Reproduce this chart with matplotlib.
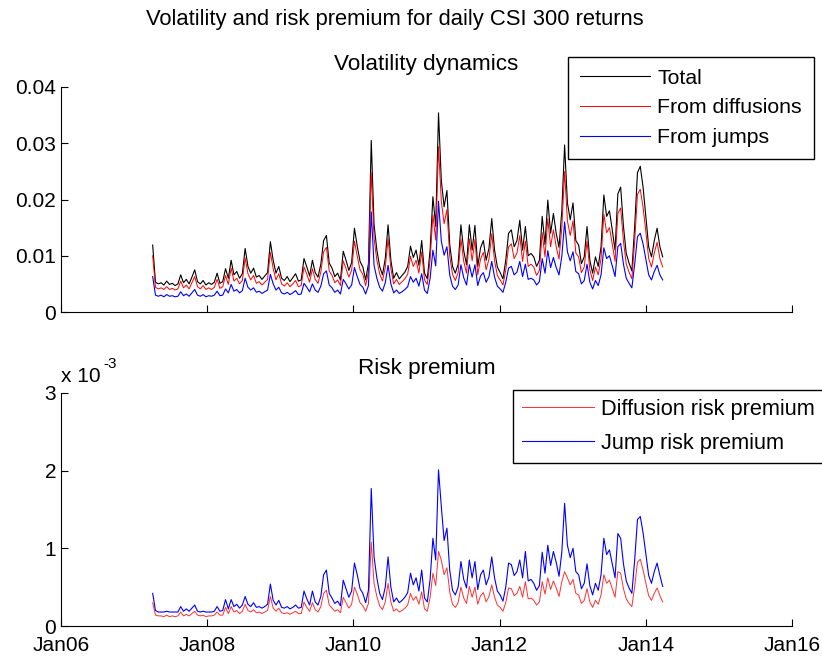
import matplotlib
matplotlib.use("Agg")
import matplotlib.pyplot as plt
import matplotlib.dates as mdates
import pandas as pd

plt.rcParams['font.family'] = ['Liberation Sans', 'DejaVu Sans']

total = [11.9, 5.3, 5.0, 5.2, 4.8, 5.5, 4.9, 5.1, 4.7, 5.0,
         6.6, 5.2, 5.8, 5.0, 6.2, 7.5, 5.4, 5.0, 5.6, 4.8,
         5.2, 4.9, 5.3, 6.9, 5.1, 5.4, 7.7, 6.0, 9.2, 6.6,
         7.2, 6.0, 6.8, 11.3, 8.1, 6.9, 7.8, 6.2, 6.5, 5.8,
         6.4, 7.0, 12.5, 9.2, 6.9, 8.1, 6.0, 5.6, 6.3, 5.4,
         6.1, 6.8, 5.5, 5.7, 9.5, 8.0, 6.4, 9.2, 7.0, 6.2,
         8.5, 12.7, 13.6, 8.7, 7.8, 6.3, 6.9, 5.7, 10.8, 9.2,
         7.4, 8.8, 14.9, 11.7, 9.0, 8.0, 5.7, 8.6, 30.5, 15.5,
         11.0, 8.1, 6.6, 9.5, 15.5, 9.2, 6.0, 7.0, 5.9, 6.5,
         7.1, 8.1, 11.7, 9.7, 11.0, 8.3, 12.7, 6.9, 5.9, 11.0,
         20.5, 15.2, 35.4, 23.4, 18.7, 21.6, 12.0, 8.1, 6.9, 8.5,
         15.5, 10.9, 8.4, 15.5, 11.0, 15.4, 8.1, 11.4, 12.7, 9.2,
         11.3, 16.6, 11.0, 8.0, 7.0, 5.9, 9.2, 14.0, 14.6, 11.6,
         12.7, 16.3, 11.0, 15.2, 10.0, 10.4, 9.8, 8.1, 9.2, 17.0,
         12.0, 19.9, 14.0, 17.5, 14.0, 11.5, 18.0, 29.7, 19.4, 16.4,
         19.4, 12.7, 11.9, 8.6, 9.8, 15.2, 9.2, 6.9, 9.8, 8.1,
         11.6, 20.8, 17.0, 18.0, 14.6, 11.0, 21.0, 22.2, 15.2, 10.4,
         8.7, 7.3, 15.2, 24.8, 25.9, 22.2, 17.0, 11.6, 9.8, 12.7,
         14.9, 11.6, 9.8]

diffusions = [10.0, 4.4, 4.1, 4.3, 4.0, 4.5, 4.0, 4.2, 3.9, 4.1,
              5.5, 4.3, 4.8, 4.1, 5.2, 6.3, 4.5, 4.1, 4.7, 4.0,
              4.3, 4.0, 4.4, 5.8, 4.2, 4.5, 6.5, 4.9, 7.8, 5.5,
              6.0, 5.0, 5.6, 9.6, 6.8, 5.7, 6.5, 5.1, 5.4, 4.8,
              5.3, 5.8, 10.6, 7.7, 5.7, 6.8, 5.0, 4.6, 5.2, 4.5,
              5.0, 5.6, 4.5, 4.7, 8.0, 6.7, 5.3, 7.7, 5.8, 5.1,
              7.1, 10.7, 11.5, 7.3, 6.5, 5.2, 5.7, 4.7, 9.1, 7.7,
              6.2, 7.4, 12.6, 9.9, 7.5, 6.7, 4.7, 7.2, 24.8, 13.1,
              9.2, 6.8, 5.5, 7.9, 13.1, 7.7, 5.0, 5.8, 4.9, 5.4,
              5.9, 6.7, 9.9, 8.1, 9.2, 6.9, 10.7, 5.7, 4.9, 9.2,
              17.3, 12.8, 29.4, 19.7, 15.7, 18.2, 10.0, 6.7, 5.6, 7.0,
              13.0, 9.0, 6.9, 13.0, 9.1, 12.9, 6.6, 9.4, 10.6, 7.5,
              9.4, 13.9, 9.1, 6.5, 5.7, 4.8, 7.5, 11.6, 12.1, 9.5,
              10.5, 13.6, 9.0, 12.6, 8.1, 8.5, 8.0, 6.5, 7.4, 14.1,
              9.8, 16.6, 11.6, 14.6, 11.6, 9.4, 15.0, 25.0, 16.2, 13.6,
              16.2, 10.5, 9.8, 7.0, 8.0, 12.6, 7.5, 5.6, 8.0, 6.6,
              9.5, 17.4, 14.1, 15.0, 12.1, 9.0, 17.5, 18.5, 12.6, 8.5,
              7.1, 5.9, 12.6, 20.9, 21.8, 18.6, 14.2, 9.5, 8.0, 10.5,
              12.4, 9.5, 8.0]

jumps = [6.3, 3.0, 2.8, 3.0, 2.7, 3.1, 2.8, 2.9, 2.7, 2.8,
         3.6, 2.9, 3.2, 2.8, 3.4, 4.0, 3.0, 2.8, 3.1, 2.7,
         2.9, 2.8, 3.0, 3.7, 2.9, 3.0, 4.1, 3.4, 4.9, 3.7,
         4.0, 3.4, 3.8, 6.0, 4.4, 3.9, 4.3, 3.5, 3.7, 3.3,
         3.6, 3.9, 6.7, 5.0, 3.9, 4.4, 3.4, 3.2, 3.5, 3.1,
         3.4, 3.8, 3.1, 3.2, 5.1, 4.4, 3.6, 5.0, 3.9, 3.5,
         4.6, 6.8, 7.3, 4.8, 4.3, 3.5, 3.9, 3.2, 5.8, 5.0,
         4.1, 4.8, 7.9, 6.3, 4.9, 4.4, 3.2, 4.7, 17.8, 8.3,
         6.0, 4.4, 3.7, 5.2, 8.3, 5.0, 3.4, 3.9, 3.3, 3.6,
         4.0, 4.5, 6.3, 5.3, 6.0, 4.6, 6.8, 3.9, 3.3, 6.0,
         11.0, 8.2, 19.7, 12.6, 10.1, 11.6, 6.6, 4.6, 4.0, 4.8,
         8.4, 6.1, 4.8, 8.4, 6.2, 8.4, 4.7, 6.4, 7.0, 5.3,
         6.3, 9.0, 6.2, 4.6, 4.1, 3.5, 5.3, 7.8, 8.1, 6.6,
         7.1, 9.0, 6.3, 8.5, 5.8, 6.0, 5.7, 4.8, 5.4, 9.5,
         6.9, 10.9, 7.9, 9.7, 7.9, 6.6, 9.9, 16.0, 10.7, 9.1,
         10.7, 7.2, 6.8, 5.0, 5.6, 8.5, 5.3, 4.1, 5.6, 4.7,
         6.6, 11.4, 9.5, 10.0, 8.2, 6.3, 11.6, 12.2, 8.5, 6.0,
         5.1, 4.3, 8.5, 13.4, 14.0, 12.1, 9.4, 6.6, 5.7, 7.2,
         8.3, 6.6, 5.7]

diffusion_rp = [0.30, 0.14, 0.13, 0.13, 0.12, 0.14, 0.12, 0.13, 0.12, 0.13,
                0.18, 0.13, 0.15, 0.13, 0.16, 0.19, 0.14, 0.13, 0.14, 0.12,
                0.13, 0.13, 0.14, 0.18, 0.14, 0.14, 0.24, 0.16, 0.25, 0.18,
                0.20, 0.16, 0.19, 0.28, 0.20, 0.18, 0.21, 0.17, 0.18, 0.16,
                0.18, 0.20, 0.38, 0.23, 0.19, 0.23, 0.17, 0.16, 0.17, 0.15,
                0.17, 0.19, 0.16, 0.16, 0.31, 0.24, 0.19, 0.30, 0.21, 0.18,
                0.25, 0.42, 0.46, 0.27, 0.23, 0.19, 0.21, 0.17, 0.37, 0.30,
                0.23, 0.28, 0.50, 0.41, 0.30, 0.26, 0.19, 0.29, 1.08, 0.55,
                0.38, 0.26, 0.21, 0.31, 0.55, 0.31, 0.19, 0.22, 0.18, 0.20,
                0.23, 0.27, 0.42, 0.33, 0.38, 0.28, 0.44, 0.22, 0.19, 0.37,
                0.68, 0.52, 0.96, 0.85, 0.66, 0.75, 0.44, 0.28, 0.24, 0.30,
                0.50, 0.36, 0.29, 0.51, 0.37, 0.50, 0.28, 0.39, 0.43, 0.31,
                0.38, 0.53, 0.37, 0.27, 0.24, 0.19, 0.30, 0.49, 0.48, 0.39,
                0.42, 0.51, 0.37, 0.57, 0.35, 0.36, 0.33, 0.27, 0.31, 0.57,
                0.41, 0.62, 0.47, 0.58, 0.49, 0.38, 0.57, 0.70, 0.62, 0.53,
                0.60, 0.42, 0.40, 0.29, 0.33, 0.48, 0.31, 0.24, 0.33, 0.28,
                0.40, 0.66, 0.55, 0.59, 0.48, 0.37, 0.70, 0.68, 0.48, 0.35,
                0.29, 0.25, 0.51, 0.82, 0.86, 0.72, 0.55, 0.39, 0.33, 0.42,
                0.49, 0.39, 0.31]

jump_rp = [0.42, 0.20, 0.18, 0.18, 0.18, 0.19, 0.18, 0.18, 0.18, 0.18,
           0.25, 0.19, 0.22, 0.19, 0.23, 0.27, 0.19, 0.18, 0.19, 0.18,
           0.18, 0.18, 0.19, 0.25, 0.19, 0.20, 0.34, 0.22, 0.34, 0.25,
           0.28, 0.23, 0.27, 0.38, 0.28, 0.25, 0.30, 0.24, 0.25, 0.23,
           0.25, 0.28, 0.54, 0.33, 0.27, 0.33, 0.24, 0.23, 0.25, 0.22,
           0.24, 0.27, 0.23, 0.24, 0.45, 0.35, 0.27, 0.45, 0.31, 0.27,
           0.38, 0.66, 0.72, 0.42, 0.36, 0.29, 0.32, 0.26, 0.59, 0.48,
           0.37, 0.45, 0.81, 0.66, 0.48, 0.42, 0.30, 0.46, 1.77, 0.89,
           0.62, 0.42, 0.34, 0.50, 0.89, 0.50, 0.31, 0.36, 0.30, 0.33,
           0.37, 0.43, 0.68, 0.53, 0.62, 0.45, 0.72, 0.36, 0.31, 0.60,
           1.13, 0.85, 2.01, 1.54, 1.10, 1.26, 0.72, 0.46, 0.40, 0.50,
           0.83, 0.60, 0.49, 0.85, 0.62, 0.83, 0.47, 0.66, 0.72, 0.53,
           0.63, 0.89, 0.62, 0.45, 0.40, 0.32, 0.50, 0.81, 0.79, 0.65,
           0.70, 0.85, 0.62, 0.96, 0.58, 0.60, 0.55, 0.46, 0.52, 0.95,
           0.68, 1.04, 0.78, 0.96, 0.82, 0.64, 0.95, 1.58, 1.04, 0.88,
           1.00, 0.70, 0.66, 0.48, 0.55, 0.80, 0.52, 0.40, 0.55, 0.46,
           0.66, 1.13, 0.92, 0.98, 0.80, 0.62, 1.19, 1.13, 0.80, 0.58,
           0.49, 0.42, 0.85, 1.37, 1.41, 1.20, 0.92, 0.65, 0.55, 0.70,
           0.81, 0.65, 0.51]

dates = pd.date_range("2007-04-04", periods=len(total), freq="14D")
tick_years = [2006, 2008, 2010, 2012, 2014, 2016]

W, H = 822, 657
fig = plt.figure(figsize=(W / 100, H / 100), dpi=100)
ax1 = fig.add_axes([61 / W, 345 / H, 731 / W, 225 / H])
ax2 = fig.add_axes([61 / W, 31 / H, 731 / W, 233 / H])

fs = 15

# top panel: volatility
ax1.plot(dates, [v / 1000 for v in total], color='k', lw=0.8, label='Total')
ax1.plot(dates, [v / 1000 for v in diffusions], color='r', lw=0.7, label='From diffusions')
ax1.plot(dates, [v / 1000 for v in jumps], color='b', lw=0.8, label='From jumps')
ax1.set_ylim(0, 0.04)
ax1.set_yticks([0, 0.01, 0.02, 0.03, 0.04])
ax1.set_yticklabels(['0', '0.01', '0.02', '0.03', '0.04'])
ax1.set_title('Volatility dynamics', fontsize=16.2, pad=12)

# bottom panel: risk premia
ax2.plot(dates, diffusion_rp, color='#ff3030', lw=0.7, label='Diffusion risk premium')
ax2.plot(dates, jump_rp, color='b', lw=0.8, label='Jump risk premium')
ax2.set_ylim(0, 3)
ax2.set_yticks([0, 1, 2, 3])
ax2.set_title('Risk premium', fontsize=16.2, pad=14)

for ax in (ax1, ax2):
    ax.set_xlim(pd.Timestamp("2006-01-01"), pd.Timestamp("2016-01-01"))
    ax.set_xticks([pd.Timestamp(f"{y}-01-01") for y in tick_years])
    ax.xaxis.set_major_formatter(mdates.DateFormatter('%b%y'))
    ax.spines['top'].set_visible(False)
    ax.spines['right'].set_visible(False)
    ax.tick_params(direction='in', length=5, width=0.8, labelsize=fs)

ax1.tick_params(axis='x', labelbottom=False)
ax2.tick_params(axis='x', pad=7)

leg_kw = dict(loc='upper left', bbox_transform=fig.transFigure,
              fancybox=False, framealpha=1, edgecolor='k', borderaxespad=0,
              handlelength=3.3, handletextpad=0.35)
l1 = ax1.legend(bbox_to_anchor=(568 / W, 1 - 57 / H), fontsize=15.3,
                labelspacing=0.5, borderpad=0.55, **leg_kw)
l2 = ax2.legend(bbox_to_anchor=(513 / W, 1 - 390 / H), fontsize=15.7,
                labelspacing=0.6, borderpad=0.4, **leg_kw)
for leg in (l1, l2):
    leg.get_frame().set_linewidth(1.0)

fig.text(395 / W, 1 - 20 / H, 'Volatility and risk premium for daily CSI 300 returns',
         ha='center', va='center', fontsize=15.8)
fig.text(61 / W, 1 - 377 / H, 'x 10', ha='left', va='center', fontsize=fs)
fig.text(103 / W, 1 - 364 / H, '-3', ha='left', va='center', fontsize=11)

fig.savefig('out.png', dpi=100)
